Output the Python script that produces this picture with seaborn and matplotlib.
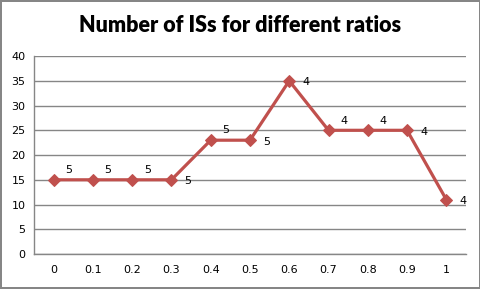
import matplotlib
matplotlib.use("Agg")
import matplotlib.pyplot as plt
import seaborn as sns
import pandas as pd

# ---- DATA ----
ratios     = ["0", "0.1", "0.2", "0.3", "0.4", "0.5", "0.6", "0.7", "0.8", "0.9", "1"]
num_iss    = [15, 15, 15, 15, 23, 23, 35, 25, 25, 25, 11]
point_lbls = ["5", "5", "5", "5", "5", "5", "4", "4", "4", "4", "4"]
y_ticks    = [0, 5, 10, 15, 20, 25, 30, 35, 40]

df = pd.DataFrame({"pos": range(len(ratios)), "ratio": ratios, "n": num_iss})

sns.set_style("white")
plt.rcParams["font.family"] = ["DejaVu Sans"]

fig = plt.figure(figsize=(4.81, 2.89), dpi=100)
fig.patch.set_edgecolor("#868686")
fig.patch.set_linewidth(1.5)
ax = fig.add_axes([0.0707, 0.121, 0.898, 0.685])

sns.lineplot(data=df, x="pos", y="n", ax=ax, color="#C0504D", linewidth=2.3,
             marker="D", markersize=6, markeredgecolor="#C0504D", sort=False)

# data labels (Excel style, offset to the right / up-right)
up_right = {0, 1, 2, 4, 7, 8}
for i, (v, lab) in enumerate(zip(num_iss, point_lbls)):
    if i in up_right:
        ax.annotate(lab, (i, v), xytext=(11, 7), textcoords="offset points",
                    ha="center", va="center", fontsize=8, color="black")
    else:
        ax.annotate(lab, (i, v), xytext=(12, -1), textcoords="offset points",
                    ha="center", va="center", fontsize=8, color="black")

ax.set_xlim(-0.5, len(ratios) - 0.5)
ax.set_ylim(0, 40)
ax.set_yticks(y_ticks)
ax.set_xticks(range(len(ratios)))
ax.set_xticklabels(ratios)
ax.set_xticks([i - 0.5 for i in range(len(ratios) + 1)], minor=True)
ax.tick_params(axis="x", which="major", length=0, labelsize=8, pad=8, labelcolor="black")
ax.tick_params(axis="x", which="minor", length=4, width=1, color="#868686", direction="out")
ax.tick_params(axis="y", length=4, width=1, color="#868686", direction="out", labelsize=8,
               pad=2, labelcolor="black")
ax.set_xlabel("")
ax.set_ylabel("")
ax.grid(axis="y", color="#868686", linewidth=1)
ax.set_axisbelow(True)
for side in ["top", "right"]:
    ax.spines[side].set_visible(False)
for side in ["left", "bottom"]:
    ax.spines[side].set_color("#868686")
    ax.spines[side].set_linewidth(1)

fig.text(0.5, 0.912, "Number of ISs for different ratios", ha="center", va="center",
         fontsize=15.5, fontweight="heavy", color="black", family=["Lato", "DejaVu Sans"])

fig.savefig("out.png", dpi=100, facecolor="white", edgecolor=fig.get_edgecolor())
